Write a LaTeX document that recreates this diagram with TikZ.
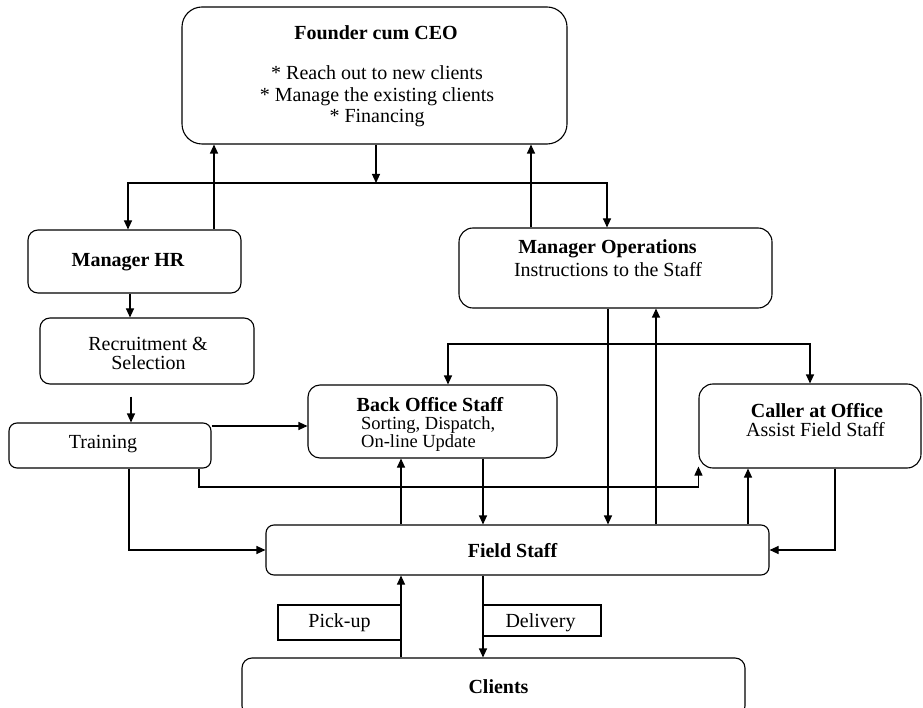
\documentclass[tikz,border=0pt]{standalone}
\usepackage{fontspec}
\setmainfont{Liberation Serif}
\usetikzlibrary{arrows.meta}
\begin{document}
\begin{tikzpicture}[x=1pt,y=-1pt,
  box/.style={draw, line width=1.1pt, inner sep=0pt, rounded corners=#1},
  box/.default=10pt,
  tag/.style={draw, line width=1.1pt, inner sep=0pt},
  lbl/.style={anchor=base, inner sep=0pt, font=\fontsize{20}{22}\selectfont},
  small/.style={anchor=base west, inner sep=0pt, font=\fontsize{18.5}{18}\selectfont},
  hd/.style={lbl, font=\fontsize{20}{22}\selectfont\bfseries},
  link/.style={line width=1.1pt, -{Triangle[length=9pt,width=8pt]}},
  fork/.style={line width=1.1pt, {Triangle[length=9pt,width=8pt]}-{Triangle[length=9pt,width=8pt]}},
]
\useasboundingbox (0,0) rectangle (923,708);
\clip (0,0) rectangle (923,708);

% ---- boxes ----
\node[box=20pt, minimum width=385pt, minimum height=137pt] (ceo) at (374.5,75.5) {};
\node[box, minimum width=213pt, minimum height=63pt] (hr) at (134.5,261.5) {};
\node[box, minimum width=214pt, minimum height=66pt] (rec) at (147,351) {};
\node[box=8pt, minimum width=202pt, minimum height=45pt] (train) at (110,445.5) {};
\node[box=14pt, minimum width=313pt, minimum height=80pt] (ops) at (615.5,268) {};
\node[box=12pt, minimum width=249pt, minimum height=73pt] (back) at (432.5,421.5) {};
\node[box=14pt, minimum width=222pt, minimum height=84pt] (caller) at (810,426) {};
\node[box=8pt, minimum width=503pt, minimum height=50pt] (field) at (517.5,550) {};
\node[box, minimum width=503pt, minimum height=58pt] (clients) at (493.5,687) {};
\node[tag, minimum width=123pt, minimum height=35pt] (pick) at (339.5,622.5) {};
\node[tag, minimum width=118pt, minimum height=31pt] (deliv) at (542,620.5) {};

% ---- texts ----
\node[hd] (ceoT) at (376,40) {Founder cum CEO};
\node[lbl] (ceo1) at (377,80) {* Reach out to new clients};
\node[lbl] (ceo2) at (377,101.5) {* Manage the existing clients};
\node[lbl] (ceo3) at (377,123) {* Financing};
\node[hd] (hrT) at (128,267) {Manager HR};
\node[lbl] (rec1) at (148,351) {Recruitment \&};
\node[lbl] (rec2) at (148.5,370) {Selection};
\node[lbl] (trainT) at (103,448) {Training};
\node[hd] (opsT) at (607.5,254) {Manager Operations};
\node[lbl] (ops1) at (608,277) {Instructions to the Staff};
\node[hd] (backT) at (430,411) {Back Office Staff};
\node[small] (back1) at (361,429.5) {Sorting, Dispatch,};
\node[small] (back2) at (361,447.5) {On-line Update};
\node[hd] (callerT) at (817,417) {Caller at Office};
\node[lbl] (caller1) at (815.5,436) {Assist Field Staff};
\node[hd] (fieldT) at (512.5,557) {Field Staff};
\node[hd] (clientsT) at (498.5,693) {Clients};
\node[lbl] (pickT) at (339.5,627) {Pick-up};
\node[lbl] (delivT) at (540.5,627) {Delivery};

% ---- CEO and the two managers ----
\coordinate (bus) at (376,183);
\coordinate (busL) at (128,183);
\coordinate (busR) at (607,183);
\draw[link] (ceo.south -| bus) -- (bus);
\draw[link] (bus) -| (busL |- hr.north);
\draw[link] (bus) -| (busR |- ops.north);
\coordinate (hrUp) at (214,0);
\draw[link] (hrUp |- hr.north) -- (hrUp |- ceo.south);
\coordinate (opsUp) at (531,0);
\draw[link] (opsUp |- ops.north) -- (opsUp |- ceo.south);

% ---- HR chain ----
\coordinate (hrDown) at (130,0);
\draw[link] (hrDown |- hr.south) -- (hrDown |- rec.north);
\coordinate (recDown) at (131,0);
\draw[link] ([yshift=-12pt]recDown |- rec.south) -- (recDown |- train.north);
\coordinate (tb) at (0,426);
\draw[link] (tb -| train.east) -- (tb -| back.west);
\coordinate (tc) at (199,487);
\draw[link] (tc |- train.south) -- (tc) -- (tc -| caller.west) -- ([yshift=2pt]caller.south west);
\coordinate (tf) at (129,0);
\draw[link] (tf |- train.south) |- (field.west);

% ---- operations to staff ----
\coordinate (split) at (0,344);
\coordinate (splitL) at (448,0);
\coordinate (splitR) at (810,0);
\draw[fork] (splitL |- back.north) -- (split -| splitL) -- (split -| splitR) -- (splitR |- caller.north);

\coordinate (upBack) at (401,0);
\coordinate (downBack) at (483,0);
\coordinate (downOps) at (608,0);
\coordinate (upOps) at (656,0);
\coordinate (upCaller) at (748,0);
\coordinate (cf) at (835,0);
\draw[link] (upBack |- field.north) -- (upBack |- back.south);
\draw[link] (downBack |- back.south) -- (downBack |- field.north);
\draw[link] (downOps |- ops.south) -- (downOps |- field.north);
\draw[link] (upOps |- field.north) -- (upOps |- ops.south);
\draw[link] (upCaller |- field.north) -- (upCaller |- caller.south);
\draw[link] (cf |- caller.south) |- (field.east);

% ---- field staff and clients ----
\draw[link] (upBack |- clients.north) -- (upBack |- field.south);
\draw[link] (downBack |- field.south) -- (downBack |- clients.north);
\end{tikzpicture}
\end{document}
